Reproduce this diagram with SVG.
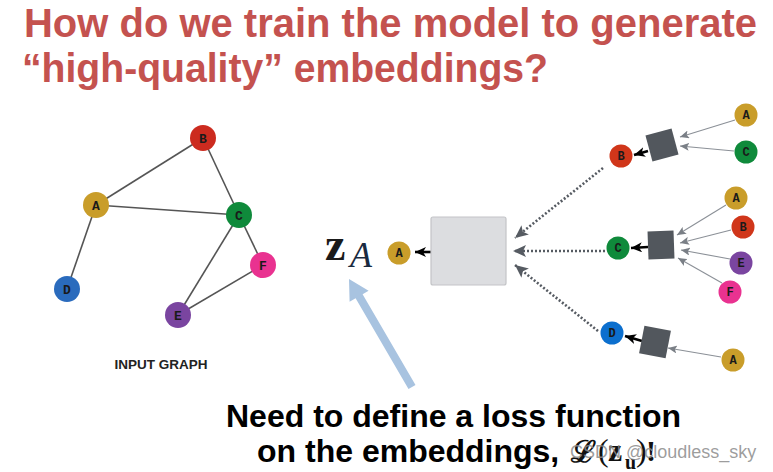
<svg xmlns="http://www.w3.org/2000/svg" width="773" height="472" viewBox="0 0 773 472">
<style>
.title{font-family:"Liberation Sans",Arial,sans-serif;font-weight:bold;font-size:40px;fill:#c4524f}
.body{font-family:"Liberation Sans",Arial,sans-serif;font-weight:bold;font-size:32px;fill:#000}
.lbl{font-family:"Liberation Mono","Courier New",monospace;font-weight:bold;font-size:13px;fill:#1a1a1a;text-anchor:middle}
.sl{font-size:12px}
.edge{stroke:#555;stroke-width:1.6;fill:none}
.dot{stroke:#565b62;stroke-width:2.6;stroke-dasharray:2 2;fill:none}
.thin{stroke:#8b9097;stroke-width:1.1;fill:none}
.blk{stroke:#000;stroke-width:2.6;fill:none}
.agg{fill:#52575d}
.cA{fill:#c99d2a}.cB{fill:#cc2b1f}.cC{fill:#0f8a3b}.cD{fill:#2a6bbd}.cE{fill:#7a45a0}.cF{fill:#e93290}
.cB2{fill:#d0361a}.cD2{fill:#0c6fce}
</style>
<defs>
<marker id="mBlk" markerUnits="userSpaceOnUse" markerWidth="12" markerHeight="10" refX="11" refY="5" orient="auto">
<path d="M0,0 L11,5 L0,10 L3,5 Z" fill="#000"/>
</marker>
<marker id="mDot" markerUnits="userSpaceOnUse" markerWidth="14" markerHeight="12" refX="13" refY="6" orient="auto">
<path d="M0,0 L13,6 L0,12 L3,6 Z" fill="#565b62"/>
</marker>
<marker id="mThin" markerUnits="userSpaceOnUse" markerWidth="10" markerHeight="8" refX="9" refY="4" orient="auto">
<path d="M0,0 L9,4 L0,8 L2,4 Z" fill="#7a7f86"/>
</marker>
</defs>

<g id="title">
<text class="title" x="24" y="37" textLength="733" lengthAdjust="spacingAndGlyphs">How do we train the model to generate</text>
<text class="title" x="22" y="82" textLength="526" lengthAdjust="spacingAndGlyphs">“high-quality” embeddings?</text>
</g>

<g id="connectors">
<line class="edge" x1="96" y1="205" x2="203" y2="138"/>
<line class="edge" x1="96" y1="205" x2="239" y2="215"/>
<line class="edge" x1="203" y1="138" x2="239" y2="215"/>
<line class="edge" x1="96" y1="205" x2="67" y2="289"/>
<line class="edge" x1="239" y1="215" x2="178" y2="315"/>
<line class="edge" x1="239" y1="215" x2="263" y2="265"/>
<line class="edge" x1="178" y1="315" x2="263" y2="265"/>
<line class="dot" x1="603" y1="168" x2="515" y2="238" marker-end="url(#mDot)"/>
<line class="dot" x1="605" y1="251" x2="513" y2="251" marker-end="url(#mDot)"/>
<line class="dot" x1="598" y1="331" x2="515" y2="265" marker-end="url(#mDot)"/>
<line class="thin" x1="735" y1="120" x2="680" y2="137" marker-end="url(#mThin)"/>
<line class="thin" x1="734" y1="151" x2="680" y2="146" marker-end="url(#mThin)"/>
<line class="thin" x1="726" y1="205" x2="677" y2="235" marker-end="url(#mThin)"/>
<line class="thin" x1="731" y1="230" x2="680" y2="243" marker-end="url(#mThin)"/>
<line class="thin" x1="730" y1="259" x2="681" y2="250" marker-end="url(#mThin)"/>
<line class="thin" x1="722" y1="283" x2="678" y2="258" marker-end="url(#mThin)"/>
<line class="thin" x1="721" y1="357" x2="668" y2="348" marker-end="url(#mThin)"/>
<line class="blk" x1="648" y1="151" x2="634" y2="155" marker-end="url(#mBlk)"/>
<line class="blk" x1="648" y1="247" x2="631" y2="248" marker-end="url(#mBlk)"/>
<line class="blk" x1="642" y1="341" x2="625" y2="336" marker-end="url(#mBlk)"/>
<line class="blk" x1="431" y1="252" x2="415" y2="252" marker-end="url(#mBlk)"/>
</g>

<g id="nodeA"><circle class="cA" cx="96" cy="205" r="13"/><text class="lbl" x="96" y="209.5">A</text></g>
<g id="nodeB"><circle class="cB" cx="203" cy="138" r="13"/><text class="lbl" x="203" y="142.5">B</text></g>
<g id="nodeC"><circle class="cC" cx="239" cy="215" r="13"/><text class="lbl" x="239" y="219.5">C</text></g>
<g id="nodeD"><circle class="cD" cx="67" cy="289" r="13"/><text class="lbl" x="67" y="293.5">D</text></g>
<g id="nodeE"><circle class="cE" cx="178" cy="315" r="13"/><text class="lbl" x="178" y="319.5">E</text></g>
<g id="nodeF"><circle class="cF" cx="263" cy="265" r="13"/><text class="lbl" x="263" y="269.5">F</text></g>
<g id="inputLabel"><text x="161" y="369" font-family="Liberation Sans, Arial, sans-serif" font-weight="bold" font-size="13.5" fill="#222" text-anchor="middle">INPUT GRAPH</text></g>

<g id="zA">
<text x="325" y="260" font-family="Liberation Serif, Times New Roman, serif" font-weight="bold" font-size="46" fill="#1a1a1a">z</text>
<text x="350" y="267" font-family="Liberation Serif, Times New Roman, serif" font-style="italic" font-size="36" fill="#1a2a40">A</text>
</g>
<g id="outA"><circle class="cA" cx="399" cy="253" r="11.5"/><text class="lbl sl" x="399" y="257">A</text></g>
<g id="model"><rect x="431" y="217" width="75" height="68" rx="2" fill="#dcdde0" stroke="#c3c4c7" stroke-width="1.2"/></g>

<g id="rB"><circle class="cB2" cx="621" cy="156" r="11.5"/><text class="lbl sl" x="621" y="160">B</text></g>
<g id="agg1"><rect class="agg" x="-13.5" y="-13.5" width="27" height="27" transform="translate(662,145) rotate(-15)"/></g>
<g id="rA1"><circle class="cA" cx="746" cy="115" r="11.5"/><text class="lbl sl" x="746" y="119">A</text></g>
<g id="rC1"><circle class="cC" cx="746" cy="152" r="11.5"/><text class="lbl sl" x="746" y="156">C</text></g>

<g id="rC"><circle class="cC" cx="618" cy="248" r="11.5"/><text class="lbl sl" x="618" y="252">C</text></g>
<g id="agg2"><rect class="agg" x="-13" y="-14" width="26" height="28" transform="translate(661,245) rotate(-2)"/></g>
<g id="rA2"><circle class="cA" cx="736" cy="198" r="11.5"/><text class="lbl sl" x="736" y="202">A</text></g>
<g id="rB2"><circle class="cB2" cx="743" cy="227" r="11.5"/><text class="lbl sl" x="743" y="231">B</text></g>
<g id="rE2"><circle class="cE" cx="741" cy="263" r="11.5"/><text class="lbl sl" x="741" y="267">E</text></g>
<g id="rF2"><circle class="cF" cx="730" cy="292" r="11.5"/><text class="lbl sl" x="730" y="296">F</text></g>

<g id="rD"><circle class="cD2" cx="612" cy="333" r="11.5"/><text class="lbl sl" x="612" y="337">D</text></g>
<g id="agg3"><rect class="agg" x="-13.5" y="-14" width="27" height="28" transform="translate(655,342) rotate(11)"/></g>
<g id="rA3"><circle class="cA" cx="733" cy="360" r="11.5"/><text class="lbl sl" x="733" y="364">A</text></g>

<g id="blueArrow"><polygon points="349,279 368.6,290.8 362.6,294.3 415.5,385 408.5,389 355.6,298.3 349.6,301.8" fill="#a8c3e0"/></g>

<g id="caption">
<text class="body" x="226" y="427">Need to define a loss function</text>
<text class="body" x="257" y="462">on the embeddings,</text>
<text x="571" y="462" font-family="DejaVu Serif, serif" font-weight="bold" font-size="30" fill="#111">ℒ</text>
<text x="598" y="461" font-family="Liberation Serif, serif" font-size="32" fill="#111">(</text>
<text x="608" y="461" font-family="Liberation Serif, serif" font-weight="bold" font-size="32" fill="#111">z</text>
<text x="625" y="469" font-family="Liberation Serif, serif" font-weight="bold" font-size="20" fill="#111">u</text>
<text x="636" y="461" font-family="Liberation Serif, serif" font-size="32" fill="#111">)</text>
<text x="646" y="461" font-family="Liberation Serif, serif" font-weight="bold" font-size="30" fill="#111">!</text>
</g>
<g id="watermark"><text x="570" y="458" font-family="Liberation Sans, Arial, sans-serif" font-size="18" fill="#8c8c8c" fill-opacity="0.85">CSDN @cloudless_sky</text></g>
</svg>
